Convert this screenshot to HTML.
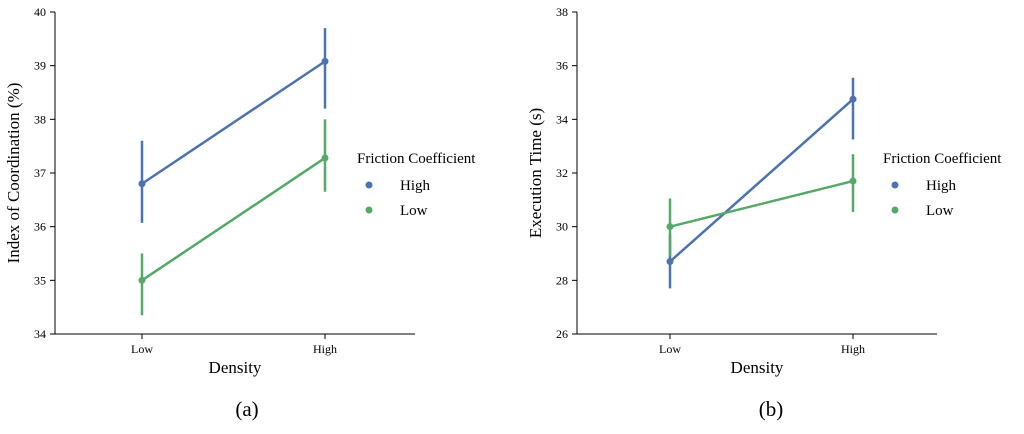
<!DOCTYPE html>
<html><head><meta charset="utf-8"><style>
body{margin:0;background:#fff;width:1024px;height:429px;overflow:hidden}
svg{font-family:"Liberation Serif",serif}
</style></head><body>
<svg id="svg" width="1024" height="429"></svg>
<script>
const categories=["Low","High"];
const seriesNames=["High","Low"];
// chart a
const aHigh=[36.8,39.08], aHighLo=[36.07,38.2], aHighHi=[37.6,39.7];
const aLow=[35.0,37.28], aLowLo=[34.35,36.65], aLowHi=[35.5,38.0];
const aTicks=[34,35,36,37,38,39,40];
// chart b
const bHigh=[28.7,34.75], bHighLo=[27.7,33.25], bHighHi=[29.7,35.55];
const bLow=[30.0,31.7], bLowLo=[28.9,30.55], bLowHi=[31.05,32.7];
const bTicks=[26,28,30,32,34,36,38];
const colors=["#4c72b0","#55a868"];
const svg=document.getElementById('svg');
const NS="http://www.w3.org/2000/svg";
function mk(t,a,p,txt){const e=document.createElementNS(NS,t);for(const k in a)e.setAttribute(k,a[k]);if(txt!=null)e.textContent=txt;(p||svg).appendChild(e);return e;}
function chart(o){
  const g=mk('g',{});
  
  
  const y0=334,y1=12,min=o.ticks[0],max=o.ticks[o.ticks.length-1];
  const ys=v=>y0-(v-min)/(max-min)*(y0-y1);
  const xs=i=>o.xLow+i*(o.xHigh-o.xLow);
  const ax=mk('line',{x1:o.ax,x2:o.ax,y1:y1,y2:y0,stroke:'#000','stroke-width':1},g);
  
  const bx=mk('line',{x1:o.ax,x2:o.axEnd,y1:y0,y2:y0,stroke:'#000','stroke-width':1},g);
  
  o.ticks.forEach(t=>{
    mk('line',{x1:o.ax-5,x2:o.ax,y1:ys(t),y2:ys(t),stroke:'#000'},g);
    const tl=mk('text',{x:o.ax-9,y:ys(t)+4,'text-anchor':'end','font-size':12},g,t);
    
  });
  categories.forEach((c,i)=>{
    mk('line',{x1:xs(i),x2:xs(i),y1:y0,y2:y0+5,stroke:'#000'},g);
    const tl=mk('text',{x:xs(i),y:y0+19,'text-anchor':'middle','font-size':12},g,c);
    
  });
  const xt=mk('text',{x:(o.ax+o.axEnd)/2,y:373,'text-anchor':'middle','font-size':17},g,'Density');
  
  const yt=mk('text',{x:0,y:0,transform:`translate(${o.ax-36},${(y0+y1)/2}) rotate(-90)`,'text-anchor':'middle','font-size':17},g,o.ylabel);
  
  o.series.forEach((s,si)=>{
    const col=colors[si];
    const ln=mk('polyline',{points:s.v.map((v,i)=>xs(i)+','+ys(v)).join(' '),fill:'none',stroke:col,'stroke-width':2.5},g);
    
    s.v.forEach((v,i)=>{
      const eb=mk('line',{x1:xs(i),x2:xs(i),y1:ys(s.lo[i]),y2:ys(s.hi[i]),stroke:col,'stroke-width':2.5},g);
      
      const p=mk('circle',{cx:xs(i),cy:ys(v),r:3.5,fill:col},g);
      
    });
  });
  const lt=mk('text',{x:o.legX,y:163,'font-size':15},g,'Friction Coefficient');
  
  seriesNames.forEach((n,i)=>{
    const yy=185+i*25;
    const m=mk('circle',{cx:o.legX+12,cy:yy,r:3.5,fill:colors[i]},g);
    
    const t=mk('text',{x:o.legX+43,y:yy+5,'font-size':15},g,n);
    
  });
  const cap=mk('text',{x:o.capX,y:416,'text-anchor':'middle','font-size':21},g,o.cap);
  
}
chart({name:'chart-a',ax:55,axEnd:415,xLow:142,xHigh:325,ticks:aTicks,ylabel:'Index of Coordination (%)',
  series:[{v:aHigh,lo:aHighLo,hi:aHighHi},{v:aLow,lo:aLowLo,hi:aLowHi}],legX:357,capX:247,cap:'(a)'});
chart({name:'chart-b',ax:577,axEnd:937,xLow:670,xHigh:853,ticks:bTicks,ylabel:'Execution Time (s)',
  series:[{v:bHigh,lo:bHighLo,hi:bHighHi},{v:bLow,lo:bLowLo,hi:bLowHi}],legX:883,capX:771,cap:'(b)'});
</script>
</body></html>
